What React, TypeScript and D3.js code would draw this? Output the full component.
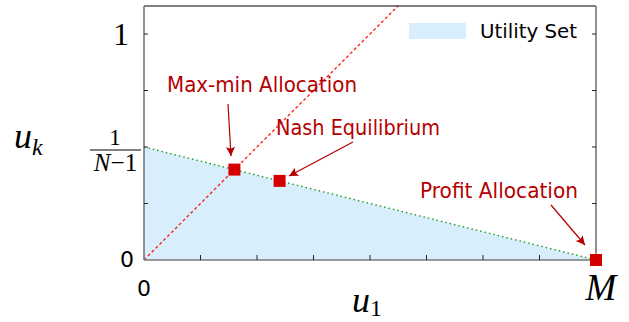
import React, { useEffect, useRef } from 'react';
import * as d3 from 'd3';

// utility frontier: u_k = 1/(N-1) * (1 - u_1)  (u_1 scaled by M)
const frontierU1 = [0, 1];
const frontierUk = [0.5, 0];

// max-min ray u_k = 2 u_1 (drawn to the top of the frame)
const rayU1 = [0, 0.562];
const rayUk = [0, 1.124];

// allocations
const pointNames = ['Max-min Allocation', 'Nash Equilibrium', 'Profit Allocation'];
const pointU1 = [0.2, 0.3, 1];
const pointUk = [0.4, 0.35, 0];

const xTicks = [0, 0.125, 0.25, 0.375, 0.5, 0.625, 0.75, 0.875, 1];
const yTicks = [0, 0.25, 0.5, 0.75, 1];
const legendLabel = 'Utility Set';

// annotation text / arrow placement (pixels)
const notes = [
  { tx: 167, ty: 92, tw: 190, x1: 228, y1: 104, x2: 231, y2: 156 },
  { tx: 276, ty: 135, tw: 164, x1: 353, y1: 142, x2: 289, y2: 176 },
  { tx: 420, ty: 198, tw: 158, x1: 551, y1: 205, x2: 585, y2: 245 },
];

const App = () => {
  const svgRef = useRef<SVGSVGElement>(null);

  useEffect(() => {
    const svg = d3.select(svgRef.current);
    svg.selectAll('*').remove();

    const left = 144, right = 596, top = 6, bottom = 260;
    const x = d3.scaleLinear().domain([0, 1]).range([left, right]);
    const y = d3.scaleLinear().domain([0, 1]).range([bottom, 34]);

    const red = '#b50000';
    const sans = '"DejaVu Sans", sans-serif';
    const serif = '"Liberation Serif", "DejaVu Serif", serif';

    svg.append('defs').append('marker')
      .attr('id', 'ah')
      .attr('viewBox', '0 0 10 10')
      .attr('refX', 10).attr('refY', 5)
      .attr('markerWidth', 14).attr('markerHeight', 9)
      .attr('markerUnits', 'userSpaceOnUse')
      .attr('orient', 'auto')
      .append('path')
      .attr('d', 'M0,0 L10,5 L0,10 L2,5 Z')
      .attr('fill', red);

    // utility set
    const area = [[frontierU1[0], 0], ...frontierU1.map((u, i) => [u, frontierUk[i]])];
    svg.append('path')
      .attr('d', d3.line<number[]>().x(d => x(d[0])).y(d => y(d[1]))(area) + 'Z')
      .attr('fill', '#d9eefc');

    svg.append('path')
      .attr('d', d3.line<number>().x(d => x(d)).y((d, i) => y(frontierUk[i]))(frontierU1))
      .attr('fill', 'none')
      .attr('stroke', '#1f9b1f')
      .attr('stroke-width', 1.4)
      .attr('stroke-dasharray', '1.5,3');

    svg.append('path')
      .attr('d', d3.line<number>().x(d => x(d)).y((d, i) => y(rayUk[i]))(rayU1))
      .attr('fill', 'none')
      .attr('stroke', '#ff2020')
      .attr('stroke-width', 1.4)
      .attr('stroke-dasharray', '3,2.5');

    // frame
    svg.append('line').attr('x1', left).attr('x2', right).attr('y1', top).attr('y2', top)
      .attr('stroke', '#000').attr('stroke-width', 1);
    svg.append('line').attr('x1', right).attr('x2', right).attr('y1', top).attr('y2', bottom)
      .attr('stroke', '#777').attr('stroke-width', 1.6);
    svg.append('line').attr('x1', left).attr('x2', left).attr('y1', top).attr('y2', bottom)
      .attr('stroke', '#777').attr('stroke-width', 1.6);
    svg.append('line').attr('x1', left).attr('x2', right).attr('y1', bottom).attr('y2', bottom)
      .attr('stroke', '#777').attr('stroke-width', 1.6);

    svg.append('g').selectAll('line').data(xTicks.slice(1, -1)).join('line')
      .attr('x1', d => x(d)).attr('x2', d => x(d))
      .attr('y1', bottom).attr('y2', bottom - 5)
      .attr('stroke', '#222').attr('stroke-width', 1);
    svg.append('g').selectAll('line').data(yTicks.slice(1)).join('line')
      .attr('x1', left).attr('x2', left + 4)
      .attr('y1', d => y(d)).attr('y2', d => y(d))
      .attr('stroke', '#222').attr('stroke-width', 1);
    svg.append('g').selectAll('line').data(yTicks.slice(1)).join('line')
      .attr('x1', right).attr('x2', right - 4)
      .attr('y1', d => y(d)).attr('y2', d => y(d))
      .attr('stroke', '#222').attr('stroke-width', 1);

    // tick labels
    svg.append('text').attr('x', 121).attr('y', y(1) + 11)
      .attr('text-anchor', 'middle').attr('font-family', serif).attr('font-size', 32)
      .text('1');
    svg.append('text').attr('x', 127).attr('y', y(0) + 7)
      .attr('text-anchor', 'middle').attr('font-family', sans).attr('font-size', 22)
      .text('0');
    svg.append('text').attr('x', x(0)).attr('y', 296)
      .attr('text-anchor', 'middle').attr('font-family', sans).attr('font-size', 22)
      .text('0');
    svg.append('text').attr('x', x(1) + 5).attr('y', 300)
      .attr('text-anchor', 'middle').attr('font-family', serif).attr('font-style', 'italic')
      .attr('font-size', 37).text('M');

    // 1/(N-1)
    svg.append('text').attr('x', 115).attr('y', 145)
      .attr('text-anchor', 'middle').attr('font-family', serif).attr('font-size', 23)
      .text('1');
    svg.append('line').attr('x1', 90).attr('x2', 141).attr('y1', 150).attr('y2', 150)
      .attr('stroke', '#000').attr('stroke-width', 1);
    const den = svg.append('text').attr('x', 115.5).attr('y', 171)
      .attr('text-anchor', 'middle').attr('font-family', serif).attr('font-size', 25);
    den.append('tspan').attr('font-style', 'italic').text('N');
    den.append('tspan').text('\u22121');

    // axis titles
    const uk = svg.append('text').attr('x', 14).attr('y', 148)
      .attr('font-family', serif).attr('font-style', 'italic').attr('font-size', 36);
    uk.append('tspan').text('u');
    uk.append('tspan').attr('font-size', 24).attr('dy', 7).text('k');
    const u1 = svg.append('text').attr('x', 352).attr('y', 312)
      .attr('font-family', serif).attr('font-size', 36);
    u1.append('tspan').attr('font-style', 'italic').text('u');
    u1.append('tspan').attr('font-size', 24).attr('dy', 4).text('1');

    // legend
    svg.append('rect').attr('x', 409).attr('y', 23).attr('width', 57).attr('height', 16)
      .attr('fill', '#d9eefc');
    svg.append('text').attr('x', 480).attr('y', 38)
      .attr('font-family', sans).attr('font-size', 20)
      .attr('textLength', 97).attr('lengthAdjust', 'spacingAndGlyphs')
      .text(legendLabel);

    // annotations
    notes.forEach((n, i) => {
      svg.append('text').attr('x', n.tx).attr('y', n.ty)
        .attr('font-family', sans).attr('font-size', 21).attr('fill', red)
        .attr('textLength', n.tw).attr('lengthAdjust', 'spacingAndGlyphs')
        .text(pointNames[i]);
      svg.append('line')
        .attr('x1', n.x1).attr('y1', n.y1).attr('x2', n.x2).attr('y2', n.y2)
        .attr('stroke', red).attr('stroke-width', 1.2)
        .attr('marker-end', 'url(#ah)');
    });

    // points
    svg.append('g').selectAll('rect').data(pointU1).join('rect')
      .attr('x', d => x(d) - 6)
      .attr('y', (d, i) => y(pointUk[i]) - 6)
      .attr('width', 12).attr('height', 12)
      .attr('fill', '#d40000');
  }, []);

  return (
    <svg ref={svgRef} width={629} height={322}
      style={{ position: 'absolute', left: 0, top: 0, background: '#fff' }} />
  );
};

export default App;
